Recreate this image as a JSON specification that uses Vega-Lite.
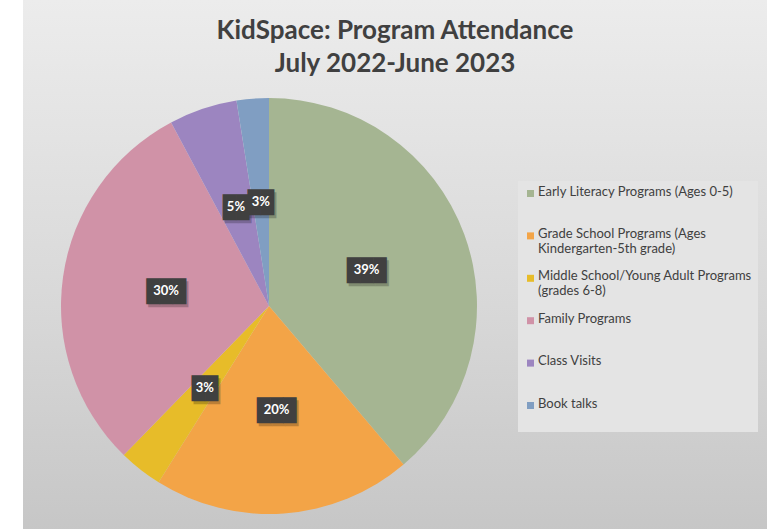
{
  "$schema": "https://vega.github.io/schema/vega-lite/v6.json",
  "background": "white",
  "padding": {"left": 23, "top": 0, "right": 0, "bottom": 0},
  "bounds": "flush",
  "spacing": 0,
  "config": {
    "font": "Lato"
  },
  "title": {
    "text": ["KidSpace: Program Attendance", "July 2022-June 2023"],
    "font": "Lato",
    "fontSize": 26,
    "fontWeight": "bold",
    "color": "#404040",
    "lineHeight": 33,
    "anchor": "middle",
    "frame": "bounds",
    "offset": -77
  },
  "datasets": {
    "att": [
      {"category": "Early Literacy Programs (Ages 0-5)", "share": 38.8, "pct": "39%", "rank": 1},
      {"category": "Grade School Programs (Ages Kindergarten-5th grade)", "share": 20.1, "pct": "20%", "rank": 2},
      {"category": "Middle School/Young Adult Programs (grades 6-8)", "share": 3.4, "pct": "3%", "rank": 3},
      {"category": "Family Programs", "share": 29.9, "pct": "30%", "rank": 4},
      {"category": "Class Visits", "share": 5.3, "pct": "5%", "rank": 5},
      {"category": "Book talks", "share": 2.5, "pct": "3%", "rank": 6}
    ]
  },
  "hconcat": [
    {
      "width": 492,
      "height": 612,
      "view": {"stroke": null, "fill": {"gradient": "linear", "x1": 0, "y1": 0, "x2": 0, "y2": 1, "stops": [{"offset": 0, "color": "#ececec"}, {"offset": 0.5, "color": "#d8d8d8"}, {"offset": 1, "color": "#c0c0c0"}]}},
      "data": {"name": "att"},
      "encoding": {
        "theta": {"field": "share", "type": "quantitative", "stack": true},
        "order": {"field": "rank", "type": "quantitative"}
      },
      "layer": [
        {
          "mark": {"type": "arc", "outerRadius": 208},
          "encoding": {
            "color": {
              "field": "category",
              "type": "nominal",
              "sort": null,
              "scale": {
                "domain": [
                  "Early Literacy Programs (Ages 0-5)",
                  "Grade School Programs (Ages Kindergarten-5th grade)",
                  "Middle School/Young Adult Programs (grades 6-8)",
                  "Family Programs",
                  "Class Visits",
                  "Book talks"
                ],
                "range": ["#A5B592", "#F3A447", "#E7BC29", "#D092A7", "#9C85C0", "#809EC2"]
              },
              "legend": {
                "title": null,
                "orient": "none",
                "legendX": 495,
                "legendY": 181,
                "fillColor": "#e4e4e4",
                "padding": 6,
                "symbolType": "square",
                "symbolSize": 49,
                "symbolStrokeWidth": 0,
                "labelFont": "Lato",
                "labelFontSize": 13,
                "labelLineHeight": 16,
                "labelColor": "#404040",
                "labelLimit": 300,
                "labelBaseline": "top",
                "labelOffset": 1,
                "rowPadding": 13.4,
                "encode": {"labels": {"update": {"dy": {"value": -8}}}},
                "labelExpr": "datum.label == 'Grade School Programs (Ages Kindergarten-5th grade)' ? ['Grade School Programs (Ages', 'Kindergarten-5th grade)'] : datum.label == 'Middle School/Young Adult Programs (grades 6-8)' ? ['Middle School/Young Adult Programs', '(grades 6-8)'] : [datum.label, ' ']"
              }
            }
          }
        },
        {
          "mark": {"type": "text", "radius": 104, "font": "DejaVu Sans Mono", "fontSize": 22, "color": "#000000", "opacity": 0.22, "baseline": "middle", "dx": 2, "dy": 4},
          "encoding": {
            "text": {"condition": {"test": "length(datum.pct) > 2", "value": "███"}, "value": "██"}
          }
        },
        {
          "mark": {"type": "text", "radius": 104, "font": "DejaVu Sans Mono", "fontSize": 22, "color": "#404040", "baseline": "middle", "dy": 1},
          "encoding": {
            "text": {"condition": {"test": "length(datum.pct) > 2", "value": "███"}, "value": "██"}
          }
        },
        {
          "mark": {"type": "text", "radius": 104, "font": "Lato", "fontSize": 13, "fontWeight": "bold", "color": "white", "baseline": "middle"},
          "encoding": {
            "text": {"field": "pct", "type": "nominal"}
          }
        }
      ]
    },
    {
      "width": 252,
      "height": 612,
      "view": {"stroke": null, "fill": {"gradient": "linear", "x1": 0, "y1": 0, "x2": 0, "y2": 1, "stops": [{"offset": 0, "color": "#ececec"}, {"offset": 0.5, "color": "#d8d8d8"}, {"offset": 1, "color": "#c0c0c0"}]}},
      "data": {"name": "att"},
      "mark": {"type": "rect", "opacity": 0},
      "encoding": {}
    }
  ]
}
